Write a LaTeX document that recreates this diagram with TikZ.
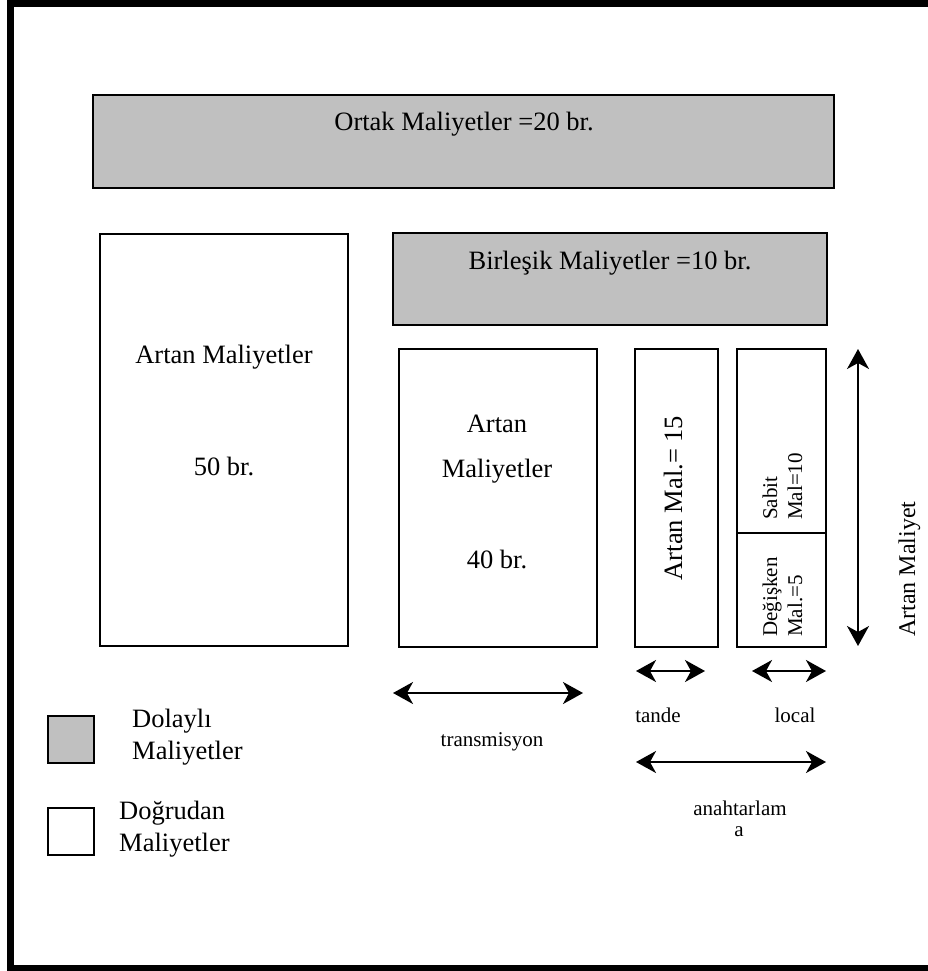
\documentclass[tikz,border=0pt]{standalone}
\usepackage{fontspec}
\setmainfont{Liberation Serif}
\usetikzlibrary{arrows.meta}
\definecolor{boxgray}{HTML}{C0C0C0}
\begin{document}
\begin{tikzpicture}[x=1pt,y=-1pt,
  box/.style={draw, line width=2pt, inner sep=0pt, outer sep=0pt, anchor=north west},
  greybox/.style={box, fill=boxgray},
  bigtxt/.style={font=\fontsize{26.5}{30}\selectfont, inner sep=0pt},
  midtxt/.style={font=\fontsize{24}{28}\selectfont, inner sep=0pt},
  smalltxt/.style={font=\fontsize{21}{24}\selectfont, inner sep=0pt},
  dbl/.style={line width=2pt, {Stealth[length=20pt,width=22pt,inset=6pt]}-{Stealth[length=20pt,width=22pt,inset=6pt]}}
]
\useasboundingbox (0,0) rectangle (928,971);
% frame
\draw[line width=7pt, line join=miter] (935,3.5) -- (10.5,3.5) -- (10.5,968) -- (935,968);

% boxes
\node[greybox, minimum width=741pt, minimum height=93pt] (ortak) at (93,95) {};
\node[box, minimum width=248pt, minimum height=412pt] (artanL) at (100,234) {};
\node[greybox, minimum width=434pt, minimum height=92pt] (birlesik) at (393,233) {};
\node[box, minimum width=198pt, minimum height=298pt] (artanM) at (399,349) {};
\node[box, minimum width=83pt, minimum height=298pt] (artan15) at (635,349) {};
\node[box, minimum width=89pt, minimum height=298pt] (artanR) at (737,349) {};
\coordinate (divL) at (737,533);
\coordinate (divR) at (826,533);
\draw[line width=2pt] (divL) -- (divR);

% texts in boxes
\node[bigtxt, anchor=base] (tOrtak) at (464,131) {Ortak Maliyetler =20 br.};
\node[bigtxt, anchor=base] (tBirlesik) at (610,269) {Birleşik Maliyetler =10 br.};
\node[bigtxt, anchor=base] (tL1) at (224,363) {Artan Maliyetler};
\node[bigtxt, anchor=base] (tL2) at (224,475) {50 br.};
\node[bigtxt, anchor=base] (tM1) at (497,432) {Artan};
\node[bigtxt, anchor=base] (tM2) at (497,477) {Maliyetler};
\node[bigtxt, anchor=base] (tM3) at (497,568) {40 br.};
\node[bigtxt, anchor=base, rotate=90] (t15) at (682,498) {Artan Mal.= 15};
\node[smalltxt, anchor=base west, rotate=90] (tS1) at (777,520) {Sabit};
\node[smalltxt, anchor=base west, rotate=90] (tS2) at (802,520) {Mal=10};
\node[smalltxt, anchor=base west, rotate=90] (tD1) at (777,637) {Değişken};
\node[smalltxt, anchor=base west, rotate=90] (tD2) at (802,637) {Mal.=5};
\node[midtxt, anchor=base west, rotate=90] (tAM) at (915,637) {Artan Maliyet};

% arrows
\coordinate (vA) at (858,349);
\coordinate (vB) at (858,646);
\draw[dbl] (vA) -- (vB);
\coordinate (trA) at (393,693);
\coordinate (trB) at (583,693);
\draw[dbl] (trA) -- (trB);
\coordinate (taA) at (636,671);
\coordinate (taB) at (705,671);
\draw[dbl] (taA) -- (taB);
\coordinate (loA) at (752,671);
\coordinate (loB) at (826,671);
\draw[dbl] (loA) -- (loB);
\coordinate (anA) at (636,762);
\coordinate (anB) at (826,762);
\draw[dbl] (anA) -- (anB);

\node[smalltxt, anchor=base] (tTr) at (492,746) {transmisyon};
\node[smalltxt, anchor=base] (tTa) at (658,722) {tande};
\node[smalltxt, anchor=base] (tLo) at (795,722) {local};
\node[smalltxt, anchor=base] (tAn1) at (740,815) {anahtarlam};
\node[smalltxt, anchor=base] (tAn2) at (739,836) {a};

% legend
\node[greybox, minimum width=46pt, minimum height=47pt] (legG) at (48,716) {};
\node[box, minimum width=46pt, minimum height=47pt] (legW) at (48,808) {};
\node[bigtxt, anchor=base west] (lg1) at (132,727) {Dolaylı};
\node[bigtxt, anchor=base west] (lg2) at (132,759) {Maliyetler};
\node[bigtxt, anchor=base west] (lw1) at (119,819) {Doğrudan};
\node[bigtxt, anchor=base west] (lw2) at (119,851) {Maliyetler};
\end{tikzpicture}
\end{document}
